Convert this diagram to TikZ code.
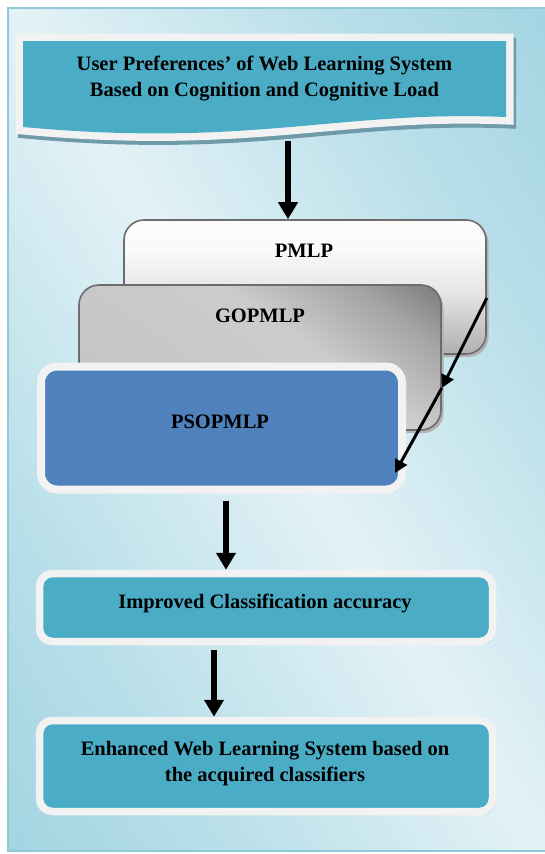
\documentclass[tikz,border=0pt]{standalone}
\usepackage{fontspec}
\setmainfont{Liberation Serif}
\usetikzlibrary{arrows.meta,shadows,calc}
\definecolor{aqua}{HTML}{4BACC6}
\definecolor{pblue}{HTML}{4F81BD}
\definecolor{rim}{HTML}{F2F2F2}
\definecolor{shad}{HTML}{6F9AAA}
\definecolor{pdark}{HTML}{98CFDE}
\definecolor{pmid}{HTML}{B9DFE9}
\definecolor{plight}{HTML}{E3F2F6}
\definecolor{pedge}{HTML}{8EC9D8}
\definecolor{g1}{HTML}{B0B0B0}
\definecolor{g2}{HTML}{C6C6C6}
\definecolor{g3}{HTML}{CCCCCC}
\definecolor{g4}{HTML}{A4A4A4}
\definecolor{g5}{HTML}{666666}
\definecolor{w1}{HTML}{868686}
\definecolor{w2}{HTML}{A8A8A8}
\definecolor{w3}{HTML}{E6E6E6}
\definecolor{w4}{HTML}{FAFAFA}
\pgfdeclarehorizontalshading{panelsh}{100bp}{color(0bp)=(pdark); color(8bp)=(pdark); color(30bp)=(pmid); color(50bp)=(plight); color(70bp)=(pmid); color(92bp)=(pdark); color(100bp)=(pdark)}
\pgfdeclarehorizontalshading{gopsh}{100bp}{color(0bp)=(g1); color(30bp)=(g2); color(58bp)=(g3); color(74bp)=(g4); color(90bp)=(g5); color(100bp)=(g5)}
\pgfdeclareverticalshading{pmlpsh}{100bp}{color(0bp)=(w1); color(22bp)=(w2); color(48bp)=(w3); color(65bp)=(w4); color(100bp)=(white)}
\tikzset{
  txt/.style={font=\bfseries\fontsize{20.5}{26}\selectfont, align=center, inner sep=0pt},
  aquabox/.style={rounded corners=13pt, fill=aqua, draw=rim, line width=7.5pt,
    minimum width=453pt, inner sep=0pt,
    drop shadow={shadow xshift=2.5pt, shadow yshift=-3pt, fill=shad, opacity=1}},
  bigarr/.style={line width=5.5pt, -{Triangle[length=17pt,width=19pt]}},
  diagarr/.style={line width=3pt, -{Triangle[length=13pt,width=13pt]}},
  greybox/.style={rounded corners=20pt, draw=gray!85!black, line width=1.6pt, inner sep=0pt,
    drop shadow={shadow xshift=2.5pt, shadow yshift=-3pt, fill=gray!60!white, opacity=1}},
}
\begin{document}
\begin{tikzpicture}[x=1pt,y=-1pt]
\useasboundingbox (0,0) rectangle (545,854);
\fill[white] (0,0) rectangle (545,854);
% panel
\shade[shading=panelsh, shading angle=32] (8,8) rectangle (548,851);
\draw[pedge, line width=1.5pt] (548,8) -- (8,8) -- (8,851) -- (548,851);
% banner
\def\bannerpath{(23,41) -- (506,41) -- (506,117) .. controls (340,110) and (250,148) .. (23,127) -- cycle}
\draw[shad, line width=15pt, shift={(2.5,4)}] \bannerpath;
\draw[rim, line width=15pt] \bannerpath;
\fill[aqua] \bannerpath;
\node[txt] (top) at (264.5,79) {User Preferences’ of Web Learning System\\Based on Cognition and Cognitive Load};
\coordinate (topb) at (288,141);
% stacked boxes
\node[greybox, shading=pmlpsh, minimum width=362pt, minimum height=134pt] (pmlp) at (305,287) {};
\node[txt] (pmlpt) at (304,251) {PMLP};
\node[greybox, shading=gopsh, shading angle=55, minimum width=362pt, minimum height=145pt] (gop) at (260,357.5) {};
\node[txt] (gopt) at (260,316) {GOPMLP};
\node[aquabox, fill=pblue, rounded corners=16pt, line width=8pt, minimum width=361pt, minimum height=123pt] (pso) at (221.5,428) {};
\node[txt] (psot) at (220,422) {PSOPMLP};
% lower boxes
\node[aquabox, minimum height=68pt] (imp) at (266,607.5) {};
\node[txt] (impt) at (265,603) {Improved Classification accuracy};
\node[aquabox, minimum height=91pt] (enh) at (266,766) {};
\node[txt] (enht) at (265,764) {Enhanced Web Learning System based on\\the acquired classifiers};
% arrows
\draw[bigarr] (topb) -- (topb |- pmlp.north);
\coordinate (d1) at (pmlp.east |- {(0,298)});
\coordinate (d2) at (gop.east |- {(0,388)});
\coordinate (d3) at (395,473);
\draw[diagarr] (d1) -- (d2);
\draw[diagarr] (d2) -- (d3);
\coordinate (c2) at (226,0);
\coordinate (c3) at (214,0);
\draw[bigarr, shorten <=7pt] (c2 |- pso.south) -- (c2 |- imp.north);
\draw[bigarr, shorten <=5pt] (c3 |- imp.south) -- (c3 |- enh.north);
\end{tikzpicture}
\end{document}
